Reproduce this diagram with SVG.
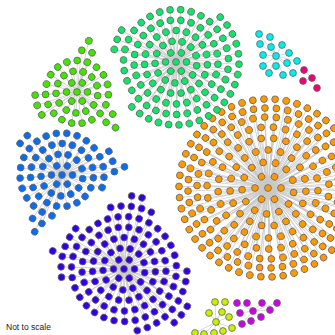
<svg xmlns="http://www.w3.org/2000/svg" width="335" height="335" viewBox="0 0 335 335">
<style>
text{font-family:"Liberation Sans",Arial,sans-serif;font-size:8.5px;fill:#222}
</style>
<defs>
<circle id="p0" r="3.4" style="fill:var(--f,none);stroke:var(--o,none);stroke-width:.8"/>
<g id="p1"><line x2="1" style="stroke:var(--e,none);stroke-width:.7;transform:scaleX(var(--s))"/><use href="#p0" style="transform:translateX(calc(var(--s)*1px))"/></g>
<g id="p2"><line x2="2" style="stroke:var(--e,none);stroke-width:.7;transform:scaleX(var(--s))"/><use href="#p0" style="transform:translateX(calc(var(--s)*2px))"/></g>
<g id="p3"><line x2="3" style="stroke:var(--e,none);stroke-width:.7;transform:scaleX(var(--s))"/><use href="#p0" style="transform:translateX(calc(var(--s)*3px))"/></g>
<g id="p4"><line x2="4" style="stroke:var(--e,none);stroke-width:.7;transform:scaleX(var(--s))"/><use href="#p0" style="transform:translateX(calc(var(--s)*4px))"/></g>
<g id="p5"><line x2="5" style="stroke:var(--e,none);stroke-width:.7;transform:scaleX(var(--s))"/><use href="#p0" style="transform:translateX(calc(var(--s)*5px))"/></g>
<g id="p6"><line x2="6" style="stroke:var(--e,none);stroke-width:.7;transform:scaleX(var(--s))"/><use href="#p0" style="transform:translateX(calc(var(--s)*6px))"/></g>
<g id="p7"><line x2="7" style="stroke:var(--e,none);stroke-width:.7;transform:scaleX(var(--s))"/><use href="#p0" style="transform:translateX(calc(var(--s)*7px))"/></g>
<g id="p8"><line x2="8" style="stroke:var(--e,none);stroke-width:.7;transform:scaleX(var(--s))"/><use href="#p0" style="transform:translateX(calc(var(--s)*8px))"/></g>
<g id="R1"><use href="#p1"/><use href="#p1" transform="rotate(60)"/><use href="#p1" transform="rotate(120)"/><use href="#p1" transform="rotate(180)"/><use href="#p1" transform="rotate(240)"/><use href="#p1" transform="rotate(300)"/></g>
<g id="R2"><use href="#p2" transform="rotate(10)"/><use href="#p2" transform="rotate(37.7)"/><use href="#p2" transform="rotate(65.4)"/><use href="#p2" transform="rotate(93.1)"/><use href="#p2" transform="rotate(120.8)"/><use href="#p2" transform="rotate(148.5)"/><use href="#p2" transform="rotate(176.2)"/><use href="#p2" transform="rotate(203.8)"/><use href="#p2" transform="rotate(231.5)"/><use href="#p2" transform="rotate(259.2)"/><use href="#p2" transform="rotate(286.9)"/><use href="#p2" transform="rotate(314.6)"/><use href="#p2" transform="rotate(342.3)"/></g>
<g id="R3"><use href="#p3" transform="rotate(5)"/><use href="#p3" transform="rotate(23.9)"/><use href="#p3" transform="rotate(42.9)"/><use href="#p3" transform="rotate(61.8)"/><use href="#p3" transform="rotate(80.8)"/><use href="#p3" transform="rotate(99.7)"/><use href="#p3" transform="rotate(118.7)"/><use href="#p3" transform="rotate(137.6)"/><use href="#p3" transform="rotate(156.6)"/><use href="#p3" transform="rotate(175.5)"/><use href="#p3" transform="rotate(194.5)"/><use href="#p3" transform="rotate(213.4)"/><use href="#p3" transform="rotate(232.4)"/><use href="#p3" transform="rotate(251.3)"/><use href="#p3" transform="rotate(270.3)"/><use href="#p3" transform="rotate(289.2)"/><use href="#p3" transform="rotate(308.2)"/><use href="#p3" transform="rotate(327.1)"/><use href="#p3" transform="rotate(346.1)"/></g>
<g id="R4"><use href="#p4" transform="rotate(3)"/><use href="#p4" transform="rotate(17.4)"/><use href="#p4" transform="rotate(31.8)"/><use href="#p4" transform="rotate(46.2)"/><use href="#p4" transform="rotate(60.6)"/><use href="#p4" transform="rotate(75)"/><use href="#p4" transform="rotate(89.4)"/><use href="#p4" transform="rotate(103.8)"/><use href="#p4" transform="rotate(118.2)"/><use href="#p4" transform="rotate(132.6)"/><use href="#p4" transform="rotate(147)"/><use href="#p4" transform="rotate(161.4)"/><use href="#p4" transform="rotate(175.8)"/><use href="#p4" transform="rotate(190.2)"/><use href="#p4" transform="rotate(204.6)"/><use href="#p4" transform="rotate(219)"/><use href="#p4" transform="rotate(233.4)"/><use href="#p4" transform="rotate(247.8)"/><use href="#p4" transform="rotate(262.2)"/><use href="#p4" transform="rotate(276.6)"/><use href="#p4" transform="rotate(291)"/><use href="#p4" transform="rotate(305.4)"/><use href="#p4" transform="rotate(319.8)"/><use href="#p4" transform="rotate(334.2)"/><use href="#p4" transform="rotate(348.6)"/></g>
<g id="R5"><use href="#p5" transform="rotate(8)"/><use href="#p5" transform="rotate(19.6)"/><use href="#p5" transform="rotate(31.2)"/><use href="#p5" transform="rotate(42.8)"/><use href="#p5" transform="rotate(54.5)"/><use href="#p5" transform="rotate(66.1)"/><use href="#p5" transform="rotate(77.7)"/><use href="#p5" transform="rotate(89.3)"/><use href="#p5" transform="rotate(100.9)"/><use href="#p5" transform="rotate(112.5)"/><use href="#p5" transform="rotate(124.1)"/><use href="#p5" transform="rotate(135.7)"/><use href="#p5" transform="rotate(147.4)"/><use href="#p5" transform="rotate(159)"/><use href="#p5" transform="rotate(170.6)"/><use href="#p5" transform="rotate(182.2)"/><use href="#p5" transform="rotate(193.8)"/><use href="#p5" transform="rotate(205.4)"/><use href="#p5" transform="rotate(217)"/><use href="#p5" transform="rotate(228.6)"/><use href="#p5" transform="rotate(240.3)"/><use href="#p5" transform="rotate(251.9)"/><use href="#p5" transform="rotate(263.5)"/><use href="#p5" transform="rotate(275.1)"/><use href="#p5" transform="rotate(286.7)"/><use href="#p5" transform="rotate(298.3)"/><use href="#p5" transform="rotate(309.9)"/><use href="#p5" transform="rotate(321.5)"/><use href="#p5" transform="rotate(333.2)"/><use href="#p5" transform="rotate(344.8)"/><use href="#p5" transform="rotate(356.4)"/></g>
<g id="R6"><use href="#p6" transform="rotate(2)"/><use href="#p6" transform="rotate(11.5)"/><use href="#p6" transform="rotate(21)"/><use href="#p6" transform="rotate(30.4)"/><use href="#p6" transform="rotate(39.9)"/><use href="#p6" transform="rotate(49.4)"/><use href="#p6" transform="rotate(58.8)"/><use href="#p6" transform="rotate(68.3)"/><use href="#p6" transform="rotate(77.8)"/><use href="#p6" transform="rotate(87.3)"/><use href="#p6" transform="rotate(96.7)"/><use href="#p6" transform="rotate(106.2)"/><use href="#p6" transform="rotate(115.7)"/><use href="#p6" transform="rotate(125.2)"/><use href="#p6" transform="rotate(134.6)"/><use href="#p6" transform="rotate(144.1)"/><use href="#p6" transform="rotate(153.6)"/><use href="#p6" transform="rotate(163.1)"/><use href="#p6" transform="rotate(172.5)"/><use href="#p6" transform="rotate(182)"/><use href="#p6" transform="rotate(191.5)"/><use href="#p6" transform="rotate(201)"/><use href="#p6" transform="rotate(210.4)"/><use href="#p6" transform="rotate(219.9)"/><use href="#p6" transform="rotate(229.4)"/><use href="#p6" transform="rotate(238.8)"/><use href="#p6" transform="rotate(248.3)"/><use href="#p6" transform="rotate(257.8)"/><use href="#p6" transform="rotate(267.3)"/><use href="#p6" transform="rotate(276.7)"/><use href="#p6" transform="rotate(286.2)"/><use href="#p6" transform="rotate(295.7)"/><use href="#p6" transform="rotate(305.2)"/><use href="#p6" transform="rotate(314.6)"/><use href="#p6" transform="rotate(324.1)"/><use href="#p6" transform="rotate(333.6)"/><use href="#p6" transform="rotate(343.1)"/><use href="#p6" transform="rotate(352.5)"/></g>
<g id="R7"><use href="#p7" transform="rotate(6)"/><use href="#p7" transform="rotate(14.2)"/><use href="#p7" transform="rotate(22.4)"/><use href="#p7" transform="rotate(30.5)"/><use href="#p7" transform="rotate(38.7)"/><use href="#p7" transform="rotate(46.9)"/><use href="#p7" transform="rotate(55.1)"/><use href="#p7" transform="rotate(63.3)"/><use href="#p7" transform="rotate(71.5)"/><use href="#p7" transform="rotate(79.6)"/><use href="#p7" transform="rotate(87.8)"/><use href="#p7" transform="rotate(96)"/><use href="#p7" transform="rotate(104.2)"/><use href="#p7" transform="rotate(112.4)"/><use href="#p7" transform="rotate(120.5)"/><use href="#p7" transform="rotate(128.7)"/><use href="#p7" transform="rotate(136.9)"/><use href="#p7" transform="rotate(145.1)"/><use href="#p7" transform="rotate(153.3)"/><use href="#p7" transform="rotate(161.5)"/><use href="#p7" transform="rotate(169.6)"/><use href="#p7" transform="rotate(177.8)"/><use href="#p7" transform="rotate(186)"/><use href="#p7" transform="rotate(194.2)"/><use href="#p7" transform="rotate(202.4)"/><use href="#p7" transform="rotate(210.5)"/><use href="#p7" transform="rotate(218.7)"/><use href="#p7" transform="rotate(226.9)"/><use href="#p7" transform="rotate(235.1)"/><use href="#p7" transform="rotate(243.3)"/><use href="#p7" transform="rotate(251.5)"/><use href="#p7" transform="rotate(259.6)"/><use href="#p7" transform="rotate(267.8)"/><use href="#p7" transform="rotate(276)"/><use href="#p7" transform="rotate(284.2)"/><use href="#p7" transform="rotate(292.4)"/><use href="#p7" transform="rotate(300.5)"/><use href="#p7" transform="rotate(308.7)"/><use href="#p7" transform="rotate(316.9)"/><use href="#p7" transform="rotate(325.1)"/><use href="#p7" transform="rotate(333.3)"/><use href="#p7" transform="rotate(341.5)"/><use href="#p7" transform="rotate(349.6)"/><use href="#p7" transform="rotate(357.8)"/></g>
<g id="R8"><use href="#p8" transform="rotate(1)"/><use href="#p8" transform="rotate(8.2)"/><use href="#p8" transform="rotate(15.4)"/><use href="#p8" transform="rotate(22.6)"/><use href="#p8" transform="rotate(29.8)"/><use href="#p8" transform="rotate(37)"/><use href="#p8" transform="rotate(44.2)"/><use href="#p8" transform="rotate(51.4)"/><use href="#p8" transform="rotate(58.6)"/><use href="#p8" transform="rotate(65.8)"/><use href="#p8" transform="rotate(73)"/><use href="#p8" transform="rotate(80.2)"/><use href="#p8" transform="rotate(87.4)"/><use href="#p8" transform="rotate(94.6)"/><use href="#p8" transform="rotate(101.8)"/><use href="#p8" transform="rotate(109)"/><use href="#p8" transform="rotate(116.2)"/><use href="#p8" transform="rotate(123.4)"/><use href="#p8" transform="rotate(130.6)"/><use href="#p8" transform="rotate(137.8)"/><use href="#p8" transform="rotate(145)"/><use href="#p8" transform="rotate(152.2)"/><use href="#p8" transform="rotate(159.4)"/><use href="#p8" transform="rotate(166.6)"/><use href="#p8" transform="rotate(173.8)"/><use href="#p8" transform="rotate(181)"/><use href="#p8" transform="rotate(188.2)"/><use href="#p8" transform="rotate(195.4)"/><use href="#p8" transform="rotate(202.6)"/><use href="#p8" transform="rotate(209.8)"/><use href="#p8" transform="rotate(217)"/><use href="#p8" transform="rotate(224.2)"/><use href="#p8" transform="rotate(231.4)"/><use href="#p8" transform="rotate(238.6)"/><use href="#p8" transform="rotate(245.8)"/><use href="#p8" transform="rotate(253)"/><use href="#p8" transform="rotate(260.2)"/><use href="#p8" transform="rotate(267.4)"/><use href="#p8" transform="rotate(274.6)"/><use href="#p8" transform="rotate(281.8)"/><use href="#p8" transform="rotate(289)"/><use href="#p8" transform="rotate(296.2)"/><use href="#p8" transform="rotate(303.4)"/><use href="#p8" transform="rotate(310.6)"/><use href="#p8" transform="rotate(317.8)"/><use href="#p8" transform="rotate(325)"/><use href="#p8" transform="rotate(332.2)"/><use href="#p8" transform="rotate(339.4)"/><use href="#p8" transform="rotate(346.6)"/><use href="#p8" transform="rotate(353.8)"/></g>

<g id="cO" transform="translate(268 188)"><use href="#R1" style="--s:13"/><use href="#R2" style="--s:13"/><use href="#R3" style="--s:12.67"/><use href="#R4" style="--s:12.5"/><use href="#R5" style="--s:12.2"/><use href="#R6" style="--s:11.83"/><use href="#R7" style="--s:11.43"/><use href="#R8" style="--s:11.125"/><use href="#p0"/></g>

<g id="cG" transform="translate(176 62)" style="--s:10.5"><use href="#R1"/><use href="#R2"/><use href="#R3"/><use href="#R4"/><use href="#R5"/><use href="#p6" transform="rotate(191.5)"/><use href="#p6" transform="rotate(201)"/><use href="#p6" transform="rotate(210.4)"/><use href="#p6" transform="rotate(314.6)"/><use href="#p6" transform="rotate(324.1)"/><use href="#p6" transform="rotate(333.6)"/><use href="#p6" transform="rotate(343.1)"/><use href="#p6" transform="rotate(352.5)"/><use href="#p6" transform="rotate(2)"/><use href="#p6" transform="rotate(11.5)"/><use href="#p6" transform="rotate(21)"/><use href="#p6" transform="rotate(30.4)"/><use href="#p6" transform="rotate(39.9)"/><use href="#p6" transform="rotate(49.4)"/><use href="#p6" transform="rotate(58.8)"/><use href="#p6" transform="rotate(68.3)"/><use href="#p6" transform="rotate(77.8)"/><use href="#p6" transform="rotate(87.3)"/><use href="#p6" transform="rotate(96.7)"/><use href="#p6" transform="rotate(106.2)"/><use href="#p6" transform="rotate(115.7)"/><use href="#p6" transform="rotate(125.2)"/><use href="#p6" transform="rotate(134.6)"/><use href="#p0"/></g>

<g id="cL" transform="translate(77 92)" style="--s:10.5"><use href="#R1"/><use href="#R2"/><use href="#R3"/><use href="#p4" transform="rotate(276.6)"/><use href="#p4" transform="rotate(291)"/><use href="#p4" transform="rotate(147)"/><use href="#p4" transform="rotate(161.4)"/><use href="#p4" transform="rotate(175.8)"/><use href="#p4" transform="rotate(31.8)"/><use href="#p4" transform="rotate(46.2)"/><use href="#p5" transform="rotate(283)"/><use href="#p5" transform="rotate(42.8)"/><use href="#p0"/></g>

<g id="cB" transform="translate(62 175)" style="--s:10.5"><use href="#R1"/><use href="#R2"/><use href="#R3"/><use href="#p4" transform="rotate(103.8)"/><use href="#p4" transform="rotate(118.2)"/><use href="#p4" transform="rotate(132.6)"/><use href="#p4" transform="rotate(147)"/><use href="#p4" transform="rotate(161.4)"/><use href="#p4" transform="rotate(175.8)"/><use href="#p4" transform="rotate(190.2)"/><use href="#p4" transform="rotate(204.6)"/><use href="#p4" transform="rotate(219)"/><use href="#p4" transform="rotate(233.4)"/><use href="#p4" transform="rotate(247.8)"/><use href="#p4" transform="rotate(262.2)"/><use href="#p4" transform="rotate(276.6)"/><use href="#p4" transform="rotate(291)"/><use href="#p4" transform="rotate(305.4)"/><use href="#p4" transform="rotate(319.8)"/><use href="#p4" transform="rotate(334.2)"/><use href="#p4" transform="rotate(348.6)"/><use href="#p4" transform="rotate(3)"/><use href="#p4" transform="rotate(17.4)"/><use href="#p5" transform="rotate(112.5)"/><use href="#p5" transform="rotate(124.1)"/><use href="#p5" transform="rotate(217)"/><use href="#p5" transform="rotate(228.6)"/><use href="#p5" transform="rotate(333.2)"/><use href="#p5" transform="rotate(344.8)"/><use href="#p5" transform="rotate(356.4)"/><use href="#p6" transform="rotate(352.5)"/><use href="#p6" transform="rotate(115.7)"/><use href="#p0"/></g>

<g id="cP" transform="translate(124 269)" style="--s:10.5"><use href="#R1"/><use href="#R2"/><use href="#R3"/><use href="#R4"/><use href="#R5"/><use href="#p6" transform="rotate(172.5)"/><use href="#p6" transform="rotate(182)"/><use href="#p6" transform="rotate(191.5)"/><use href="#p6" transform="rotate(201)"/><use href="#p6" transform="rotate(210.4)"/><use href="#p6" transform="rotate(219.9)"/><use href="#p6" transform="rotate(257.8)"/><use href="#p6" transform="rotate(267.3)"/><use href="#p6" transform="rotate(276.7)"/><use href="#p6" transform="rotate(286.2)"/><use href="#p6" transform="rotate(295.7)"/><use href="#p6" transform="rotate(2)"/><use href="#p6" transform="rotate(11.5)"/><use href="#p6" transform="rotate(21)"/><use href="#p6" transform="rotate(30.4)"/><use href="#p6" transform="rotate(39.9)"/><use href="#p6" transform="rotate(49.4)"/><use href="#p6" transform="rotate(58.8)"/><use href="#p6" transform="rotate(68.3)"/><use href="#p6" transform="rotate(77.8)"/><use href="#p7" transform="rotate(194.2)"/><use href="#p7" transform="rotate(276)"/><use href="#p7" transform="rotate(284.2)"/><use href="#p7" transform="rotate(30.5)"/><use href="#p7" transform="rotate(38.7)"/><use href="#p7" transform="rotate(46.9)"/><use href="#p0"/></g>

<g id="cC"><path style="fill:none;stroke:var(--e,none);stroke-width:.7" d="M276 56L259 34M276 56L270 37M276 56L260 44M276 56L271 47M276 56L282 45M276 56L263 55M276 56L289 53M276 56L263 66M276 56L276 66M276 56L287 63M276 56L297 61M276 56L269 73M276 56L283 75M276 56L293 73"/><use href="#p0" x="259" y="34"/><use href="#p0" x="270" y="37"/><use href="#p0" x="260" y="44"/><use href="#p0" x="271" y="47"/><use href="#p0" x="282" y="45"/><use href="#p0" x="263" y="55"/><use href="#p0" x="289" y="53"/><use href="#p0" x="263" y="66"/><use href="#p0" x="276" y="66"/><use href="#p0" x="287" y="63"/><use href="#p0" x="297" y="61"/><use href="#p0" x="269" y="73"/><use href="#p0" x="283" y="75"/><use href="#p0" x="293" y="73"/><use href="#p0" x="276" y="56"/></g>

<g id="cK"><path style="fill:none;stroke:var(--e,none);stroke-width:.7" d="M312 78L304 70M312 78L303 81M312 78L317 88"/><use href="#p0" x="304" y="70"/><use href="#p0" x="303" y="81"/><use href="#p0" x="317" y="88"/><use href="#p0" x="312" y="78"/></g>

<g id="cY"><path style="fill:none;stroke:var(--e,none);stroke-width:.7" d="M216 322L215 302M216 322L225 302M216 322L209 313M216 322L222 312M216 322L229 317M216 322L232 328M216 322L223 331M216 322L214 333M216 322L204 334M216 322L195 333"/><use href="#p0" x="215" y="302"/><use href="#p0" x="225" y="302"/><use href="#p0" x="209" y="313"/><use href="#p0" x="222" y="312"/><use href="#p0" x="229" y="317"/><use href="#p0" x="232" y="328"/><use href="#p0" x="223" y="331"/><use href="#p0" x="214" y="333"/><use href="#p0" x="204" y="334"/><use href="#p0" x="195" y="333"/><use href="#p0" x="216" y="322"/></g>

<g id="cM"><path style="fill:none;stroke:var(--e,none);stroke-width:.7" d="M253 311L237 303M253 311L247 303M253 311L262 303M253 311L277 303M253 311L240 313M253 311L270 310M253 311L242 324M253 311L251 321M253 311L261 317"/><use href="#p0" x="237" y="303"/><use href="#p0" x="247" y="303"/><use href="#p0" x="262" y="303"/><use href="#p0" x="277" y="303"/><use href="#p0" x="240" y="313"/><use href="#p0" x="270" y="310"/><use href="#p0" x="242" y="324"/><use href="#p0" x="251" y="321"/><use href="#p0" x="261" y="317"/><use href="#p0" x="253" y="311"/></g>
</defs>

<rect width="335" height="335" fill="#fff"/>

<g id="connectors" style="--e:#c8c8c8">
<use href="#cO"/><use href="#cG"/><use href="#cL"/><use href="#cB"/><use href="#cP"/><use href="#cC"/><use href="#cK"/><use href="#cY"/><use href="#cM"/>
</g>

<g id="orange-cluster" style="--f:#ff9900;--o:#666"><use href="#cO"/></g>
<g id="green-cluster" style="--f:#12e36a;--o:#666"><use href="#cG"/></g>
<g id="lime-cluster" style="--f:#44e400;--o:#666"><use href="#cL"/></g>
<g id="blue-cluster" style="--f:#0a6cf0;--o:#666"><use href="#cB"/></g>
<g id="purple-cluster" style="--f:#3300e6;--o:#666"><use href="#cP"/></g>
<g id="cyan-cluster" style="--f:#00eeee;--o:#666"><use href="#cC"/></g>
<g id="pink-cluster" style="--f:#ee0077;--o:#666"><use href="#cK"/></g>
<g id="yellowgreen-cluster" style="--f:#c8f000;--o:#666"><use href="#cY"/></g>
<g id="magenta-cluster" style="--f:#cc00e6;--o:#666"><use href="#cM"/></g>

<text x="6" y="330">Not to scale</text>
</svg>
